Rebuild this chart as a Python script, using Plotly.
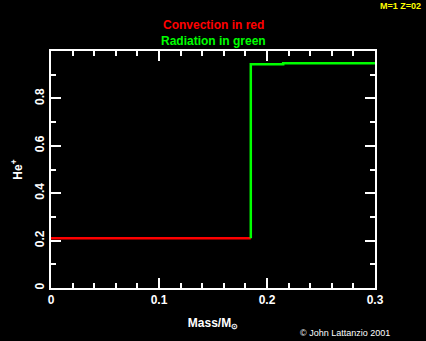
import plotly.graph_objects as go

# Data
conv_x = [0.0, 0.185]
conv_y = [0.21, 0.21]
rad_x = [0.185, 0.185, 0.215, 0.215, 0.3]
rad_y = [0.21, 0.944, 0.944, 0.948, 0.948]
x_ticks = [0, 0.1, 0.2, 0.3]
x_labels = ["0", "0.1", "0.2", "0.3"]
y_ticks = [0, 0.2, 0.4, 0.6, 0.8]
y_labels = ["0", "0.2", "0.4", "0.6", "0.8"]

FONT = "Liberation Sans"

fig = go.Figure()
fig.add_trace(go.Scatter(x=conv_x, y=conv_y, mode="lines",
                         line=dict(color="#ff0000", width=2.5), showlegend=False))
fig.add_trace(go.Scatter(x=rad_x, y=rad_y, mode="lines",
                         line=dict(color="#00ff00", width=2.5), showlegend=False))

axis_common = dict(showline=True, linecolor="white", linewidth=2, mirror="ticks",
                   ticks="inside", tickcolor="white", tickwidth=2, showgrid=False,
                   zeroline=False,
                   tickfont=dict(color="white", size=12, family=FONT, weight="bold"))

fig.update_xaxes(range=[0, 0.3], tickvals=x_ticks, ticktext=x_labels, ticklen=10,
                 minor=dict(dtick=0.02, ticks="inside", ticklen=5, tickcolor="white", tickwidth=1.5),
                 title=dict(text="<b>Mass/M<sub>⊙</sub></b>",
                            font=dict(color="white", size=12, family=FONT), standoff=12),
                 **axis_common)
fig.update_yaxes(range=[0, 1.0], tickvals=y_ticks, ticktext=y_labels, ticklen=10, tickangle=-90,
                 minor=dict(dtick=0.1, ticks="inside", ticklen=5, tickcolor="white", tickwidth=1.5),
                 title=dict(text="<b>He<sup>+</sup></b>",
                            font=dict(color="white", size=12, family=FONT), standoff=8),
                 **axis_common)

W, H = 426, 341
l, r, t, b = 51, 51, 51, 53
pw, ph = W - l - r, H - t - b

def px2paper(px, py):
    return (px - l) / pw, (H - b - py) / ph

texts = [
    ("<b>Convection in red</b>", 213, 25, "#ff0000", 12, "center"),
    ("<b>Radiation in green</b>", 213, 41, "#00ff00", 12, "center"),
    ("<b>M=1 Z=02</b>", 423, 6, "#ffff00", 9, "right"),
    ("© John Lattanzio 2001", 392, 333, "white", 9, "right"),
]
ann = []
for txt, px, py, col, sz, xa in texts:
    x, y = px2paper(px, py)
    ann.append(dict(text=txt, x=x, y=y, xref="paper", yref="paper", showarrow=False,
                    xanchor=xa, yanchor="middle",
                    font=dict(color=col, size=sz, family=FONT)))

fig.update_layout(
    width=W, height=H,
    margin=dict(l=l, r=r, t=t, b=b),
    paper_bgcolor="black", plot_bgcolor="black",
    font=dict(family=FONT, color="white"),
    annotations=ann,
)

fig.write_html("out.html")
